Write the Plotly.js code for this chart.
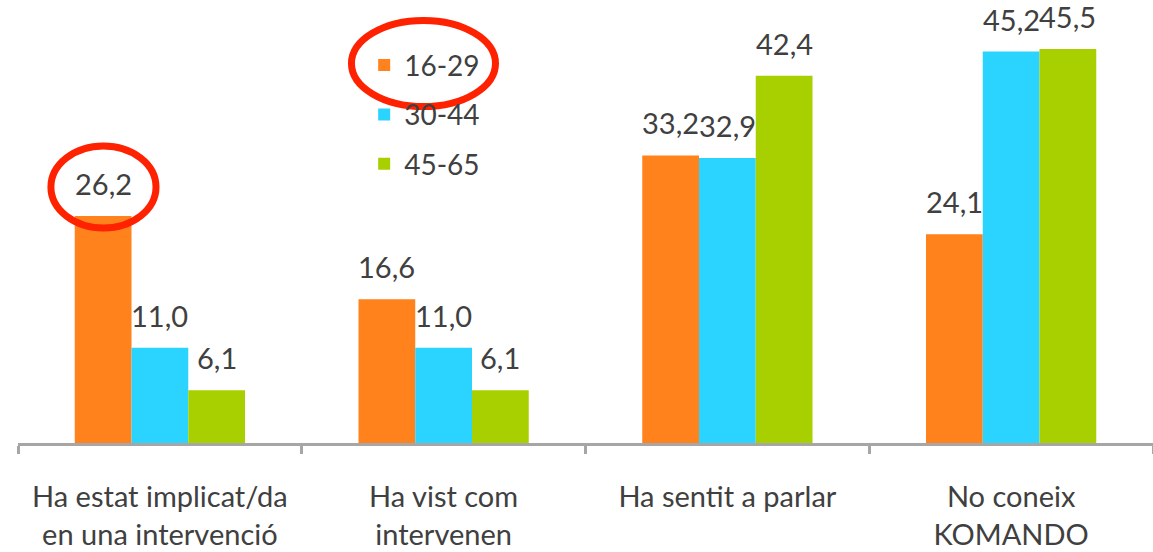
<!DOCTYPE html>
<html>
<head>
<meta charset="utf-8">
<script src="https://cdn.plot.ly/plotly-3.0.1.min.js"></script>
<style>html,body{margin:0;padding:0;background:#fff;}#chart{width:1153px;height:552px;}</style>
</head>
<body>
<div id="chart"></div>
<script>
const categories = ["Ha estat implicat/da<br>en una intervenció", "Ha vist com<br>intervenen", "Ha sentit a parlar", "No coneix<br>KOMANDO"];
const seriesNames = ["16-29", "30-44", "45-65"];
const values1629 = [26.2, 16.6, 33.2, 24.1];
const values3044 = [11.0, 11.0, 32.9, 45.2];
const values4565 = [6.1, 6.1, 42.4, 45.5];
const colors = ["#FF821C", "#2AD4FF", "#A8D000"];

const allValues = [values1629, values3044, values4565];
const FONT = "Lato, 'Open Sans', sans-serif";
const TXT = "#404040";

const traces = allValues.map((vals, i) => ({
  type: "bar",
  name: seriesNames[i],
  x: categories,
  y: vals,
  marker: {color: colors[i], line: {width: 0}},
  legendgroup: "g" + i,
  hoverinfo: "skip"
}));

const annotations = [];
allValues.forEach((vals, i) => {
  vals.forEach((v, j) => {
    annotations.push({
      xref: "x", yref: "y",
      x: j + (i - 1) * 0.2, y: v,
      text: v.toFixed(1).replace(".", ","),
      showarrow: false, yanchor: "bottom", yshift: 13,
      font: {family: FONT, size: 29, color: TXT}
    });
  });
});

const layout = {
  width: 1153, height: 552,
  margin: {l: 18, r: 0, t: 10, b: 109},
  paper_bgcolor: "#fff", plot_bgcolor: "#fff",
  barmode: "group", bargap: 0.4, bargroupgap: 0,
  showlegend: true,
  legend: {
    x: 0.305, y: 0.93, xanchor: "left", yanchor: "top",
    font: {family: FONT, size: 28, color: TXT},
    bgcolor: "rgba(0,0,0,0)", traceorder: "grouped", tracegroupgap: 10
  },
  xaxis: {
    type: "category",
    showline: true, linecolor: "#A6A6A6", linewidth: 3,
    ticks: "outside", tickson: "boundaries", ticklen: 8, tickwidth: 3, tickcolor: "#A6A6A6",
    tickfont: {family: FONT, size: 29, color: TXT},
    ticklabelstandoff: 26,
    showgrid: false, zeroline: false, fixedrange: true
  },
  yaxis: {visible: false, range: [0, 50], showgrid: false, zeroline: false, fixedrange: true},
  annotations: annotations,
  shapes: [
    {type: "circle", xref: "paper", yref: "paper", x0: 0.029, x1: 0.1216, y0: 0.4965, y1: 0.686,
     line: {color: "#FF2200", width: 7}},
    {type: "circle", xref: "paper", yref: "paper", x0: 0.2938, x1: 0.4207, y0: 0.777, y1: 0.9758,
     line: {color: "#FF2200", width: 7}}
  ]
};

Plotly.newPlot("chart", traces, layout, {displayModeBar: false, staticPlot: true});
</script>
</body>
</html>
